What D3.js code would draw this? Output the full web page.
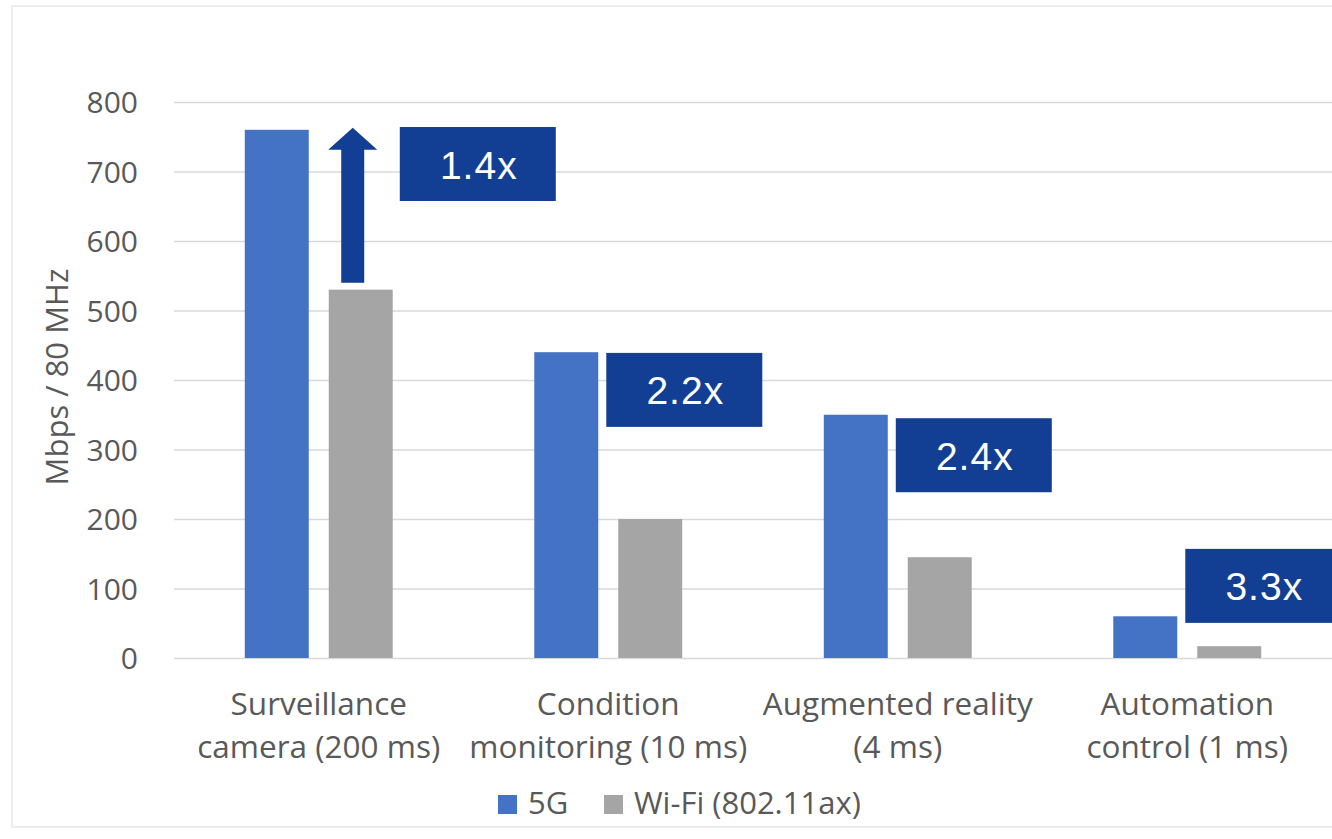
<!DOCTYPE html>
<html>
<head>
<meta charset="utf-8">
<script src="https://cdn.jsdelivr.net/npm/d3@7"></script>
<style>
  html, body { margin: 0; padding: 0; background: #ffffff; }
  svg { display: block; }
</style>
</head>
<body>
<svg id="chart" width="1332" height="839"></svg>
<script>
// ---- data ----
const categories = [
  ["Surveillance", "camera (200 ms)"],
  ["Condition", "monitoring (10 ms)"],
  ["Augmented reality", "(4 ms)"],
  ["Automation", "control (1 ms)"]
];
const seriesNames = ["5G", "Wi-Fi (802.11ax)"];
const values5G = [760, 440, 350, 60];
const valuesWiFi = [530, 200, 145, 17];
const yTicks = [0, 100, 200, 300, 400, 500, 600, 700, 800];
const gainLabels = ["1.4x", "2.2x", "2.4x", "3.3x"];
const gainBoxTop = [764, 439, 345, 157]; // in data units (Mbps)
const yTitle = "Mbps / 80 MHz";

// ---- layout ----
const svg = d3.select("#chart");
const colors = ["#4472c4", "#a5a5a5"];
const boxColor = "#123f94";
const textColor = "#595959";
const catKeys = categories.map((c, i) => "c" + i);

const x0 = d3.scaleBand().domain(catKeys).range([174, 1332])
  .paddingInner(0.489).paddingOuter(0.2445);
const x1 = d3.scaleBand().domain(seriesNames).range([0, x0.bandwidth()])
  .paddingInner(0.238).paddingOuter(0);
const y = d3.scaleLinear().domain([0, 800]).range([658, 102]);

// faint outer frame
svg.append("rect").attr("x", 12).attr("y", 6).attr("width", 1340).attr("height", 821)
  .attr("fill", "none").attr("stroke", "#ededed").attr("stroke-width", 2);

// gridlines + tick labels via axis
const yAxis = d3.axisLeft(y).tickValues(yTicks).tickSize(-(1332 - 174)).tickPadding(36);
const gA = svg.append("g").attr("transform", "translate(174,0)").call(yAxis);
gA.select(".domain").remove();
gA.selectAll(".tick line").attr("stroke", "#d9d9d9").attr("stroke-width", 1.5);
gA.selectAll(".tick text")
  .attr("fill", textColor)
  .style("font-family", "'Open Sans', sans-serif")
  .style("font-size", "30px")
  .attr("dy", "0.36em");

// y title
svg.append("text")
  .attr("transform", "translate(56,377) rotate(-90)")
  .attr("text-anchor", "middle")
  .attr("dominant-baseline", "central")
  .attr("fill", textColor)
  .style("font-family", "'Open Sans', sans-serif")
  .style("font-size", "31px")
  .text(yTitle);

// bars
const seriesData = [values5G, valuesWiFi];
const gBars = svg.append("g");
catKeys.forEach((k, i) => {
  seriesNames.forEach((s, j) => {
    const v = seriesData[j][i];
    gBars.append("rect")
      .attr("x", x0(k) + x1(s))
      .attr("y", y(v))
      .attr("width", x1.bandwidth())
      .attr("height", y(0) - y(v))
      .attr("fill", colors[j]);
  });
});

// arrow on first category (Wi-Fi -> 5G)
{
  const k = catKeys[0];
  const cx = x0(k) + x1(seriesNames[1]) + x1.bandwidth() / 2 - 8;
  const base = y(valuesWiFi[0]) - 7;
  const tip = y(values5G[0]) - 2;
  const shaftW = 23, headW = 49, headH = 22;
  const p = d3.path();
  p.moveTo(cx - shaftW / 2, base);
  p.lineTo(cx - shaftW / 2, tip + headH);
  p.lineTo(cx - headW / 2, tip + headH);
  p.lineTo(cx, tip);
  p.lineTo(cx + headW / 2, tip + headH);
  p.lineTo(cx + shaftW / 2, tip + headH);
  p.lineTo(cx + shaftW / 2, base);
  p.closePath();
  svg.append("path").attr("d", p.toString()).attr("fill", boxColor);
}

// gain boxes
const boxW = 156, boxH = 74;
catKeys.forEach((k, i) => {
  const left = x0(k) + (i === 0 ? 155 : 72);
  const top = y(gainBoxTop[i]);
  svg.append("rect").attr("x", left).attr("y", top)
    .attr("width", boxW).attr("height", boxH).attr("fill", boxColor);
  svg.append("text")
    .attr("x", left + boxW / 2 + 1).attr("y", top + boxH / 2 + 1)
    .attr("text-anchor", "middle").attr("dominant-baseline", "central")
    .attr("fill", "#ffffff")
    .style("font-family", "'Liberation Sans', Arial, sans-serif")
    .style("font-size", "39px")
    .style("letter-spacing", "1px")
    .text(gainLabels[i]);
});

// category labels
catKeys.forEach((k, i) => {
  const cx = x0(k) + x0.bandwidth() / 2;
  const t = svg.append("text")
    .attr("text-anchor", "middle").attr("fill", textColor)
    .style("font-family", "'Open Sans', sans-serif")
    .style("font-size", "31.5px");
  t.append("tspan").attr("x", cx).attr("y", 715).text(categories[i][0]);
  t.append("tspan").attr("x", cx).attr("y", 758).text(categories[i][1]);
});

// legend
const legendItems = [
  { name: seriesNames[0], color: colors[0], sx: 498 },
  { name: seriesNames[1], color: colors[1], sx: 604 }
];
legendItems.forEach(it => {
  svg.append("rect").attr("x", it.sx).attr("y", 795).attr("width", 19).attr("height", 19)
    .attr("fill", it.color);
  svg.append("text").attr("x", it.sx + 30).attr("y", 814)
    .attr("fill", textColor)
    .style("font-family", "'Open Sans', sans-serif")
    .style("font-size", "31px")
    .text(it.name);
});
</script>
</body>
</html>
